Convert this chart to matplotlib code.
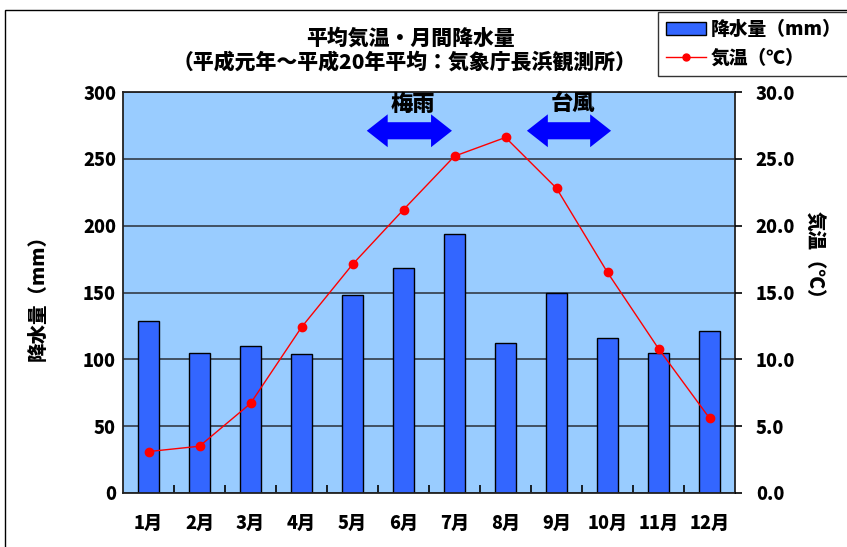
import matplotlib
matplotlib.use("Agg")
import matplotlib.pyplot as plt
from matplotlib.patches import Polygon, Rectangle, Patch
from matplotlib.lines import Line2D

plt.rcParams['font.family'] = ['Noto Sans CJK JP', 'DejaVu Sans']
plt.rcParams['font.weight'] = 'bold'

months = ['1月', '2月', '3月', '4月', '5月', '6月', '7月', '8月', '9月', '10月', '11月', '12月']
rain_mm = [129, 105, 110, 104, 148, 168, 194, 112, 150, 116, 105, 121]
temp_c = [3.1, 3.5, 6.7, 12.4, 17.1, 21.2, 25.2, 26.6, 22.8, 16.5, 10.8, 5.6]
rain_ticks = [0, 50, 100, 150, 200, 250, 300]
temp_ticks = [0, 5, 10, 15, 20, 25, 30]

W, H = 847, 547
fig = plt.figure(figsize=(W / 100, H / 100), dpi=100)
fig.patch.set_facecolor('white')

# outer frame of the chart
fig.add_artist(Rectangle((5 / W, -0.01), 1.0, (H - 10) / H + 0.01, transform=fig.transFigure,
                         fill=False, edgecolor='black', linewidth=1.0))

ax = fig.add_axes([123 / W, 1 - 493 / H, (735 - 123) / W, (493 - 92) / H])
ax.set_facecolor('#99CCFF')
x = list(range(len(months)))

ax.set_axisbelow(True)
ax.yaxis.grid(True, color='#3a4656', linewidth=1.3)
ax.bar(x, rain_mm, width=0.4, color='#3366FF', edgecolor='black', linewidth=1.0, zorder=2)
ax.set_xlim(-0.5, len(months) - 0.5)
ax.set_ylim(0, 300)
ax.set_yticks(rain_ticks)
ax.set_yticklabels([str(t) for t in rain_ticks], fontsize=13, fontweight='heavy')
ax.set_xticks(x)
ax.set_xticklabels(months, fontsize=13, fontweight='heavy')
ax.tick_params(axis='x', length=0, pad=15)
ax.set_xticks([i + 0.5 for i in x[:-1]], minor=True)
ax.tick_params(axis='x', which='minor', direction='in', length=6, width=1.2)
ax.tick_params(axis='y', length=0, pad=5)
for s in ax.spines.values():
    s.set_color('#222222')
    s.set_linewidth(1.3)
ax.set_ylabel('降水量（mm）', fontsize=14, fontweight='heavy', va='center')
ax.yaxis.set_label_coords((38 - 123) / 612, (493 - 293) / 401)

ax2 = ax.twinx()
ax2.plot(x, temp_c, color='#FF0000', linewidth=1.0, marker='o', markersize=6, zorder=3)
ax2.set_ylim(0, 30)
ax2.set_yticks(temp_ticks)
ax2.set_yticklabels([f'{t:.1f}' for t in temp_ticks], fontsize=13, fontweight='heavy')
ax2.tick_params(axis='y', direction='out', length=5, width=1.2, pad=10)
ax2.set_ylabel('気温（℃）', fontsize=14, fontweight='heavy', rotation=-90, va='center')
ax2.yaxis.set_label_coords((814 - 123) / 612, (493 - 260) / 401)
for s in ax2.spines.values():
    s.set_visible(False)


def double_arrow(axis, x0, x1, yc, head_len=0.41, head_half=12.3, shaft_half=6.4, color='#0000FF'):
    pts = [(x0, yc), (x0 + head_len, yc + head_half), (x0 + head_len, yc + shaft_half),
           (x1 - head_len, yc + shaft_half), (x1 - head_len, yc + head_half), (x1, yc),
           (x1 - head_len, yc - head_half), (x1 - head_len, yc - shaft_half),
           (x0 + head_len, yc - shaft_half), (x0 + head_len, yc - head_half)]
    axis.add_patch(Polygon(pts, closed=True, facecolor=color, edgecolor='none', zorder=4))


double_arrow(ax, 4.28, 5.95, 271.0)
double_arrow(ax, 7.42, 9.07, 271.0)
ax.text(5.19, 290.5, '梅雨', ha='center', va='center', fontsize=16, fontweight='heavy', zorder=5)
ax.text(8.33, 291.5, '台風', ha='center', va='center', fontsize=16, fontweight='heavy', zorder=5)

fig.text(410 / W, 1 - 38 / H, '平均気温・月間降水量', ha='center', va='center',
         fontsize=15, fontweight='heavy')
fig.text(405 / W, 1 - 62 / H, '（平成元年～平成20年平均：気象庁長浜観測所）', ha='center', va='center',
         fontsize=15, fontweight='heavy')

handles = [Patch(facecolor='#3366FF', edgecolor='black', linewidth=1.0),
           Line2D([0], [0], color='#FF0000', linewidth=1.0, marker='o', markersize=5)]
leg = fig.legend(handles, ['降水量（mm）', '気温（℃）'], loc='upper left',
                 bbox_to_anchor=(658 / W, 1 - 12 / H), frameon=True, fancybox=False,
                 prop={'size': 13.5, 'weight': 'heavy'}, borderpad=0.45, labelspacing=0.5,
                 handlelength=2.1, handletextpad=0.25, borderaxespad=0)
leg.get_frame().set_edgecolor('black')
leg.get_frame().set_linewidth(1.0)

fig.savefig('out.png', dpi=100)
